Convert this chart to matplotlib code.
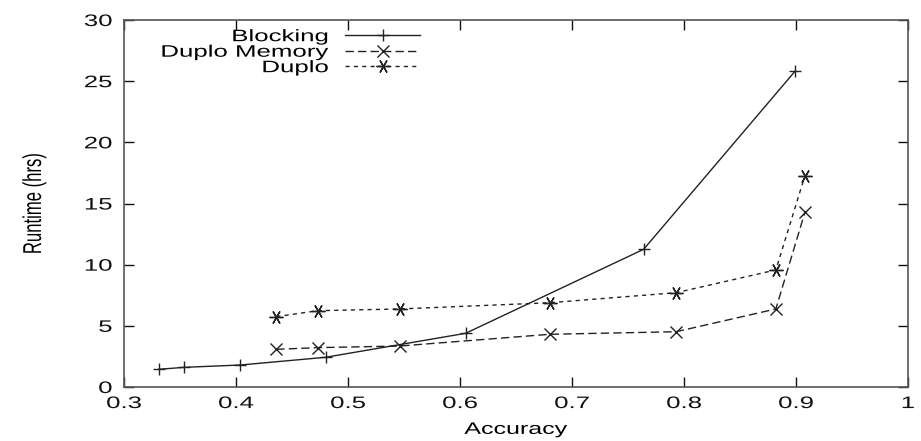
import numpy as np
import matplotlib
matplotlib.use("Agg")
import matplotlib.pyplot as plt
from matplotlib.patheffects import AbstractPathEffect
from matplotlib.transforms import Affine2D

plt.rcParams['font.family'] = ['Liberation Sans', 'DejaVu Sans']

# values
blocking_x = [0.331, 0.354, 0.404, 0.480, 0.605, 0.764, 0.899]
blocking_y = [1.45, 1.61, 1.80, 2.43, 4.39, 11.26, 25.8]

memory_x = [0.436, 0.473, 0.546, 0.680, 0.793, 0.882, 0.908]
memory_y = [3.08, 3.22, 3.35, 4.31, 4.52, 6.38, 14.3]

duplo_x = [0.436, 0.473, 0.546, 0.680, 0.793, 0.882, 0.908]
duplo_y = [5.75, 6.24, 6.38, 6.89, 7.71, 9.57, 17.28]

xticks = [0.3, 0.4, 0.5, 0.6, 0.7, 0.8, 0.9, 1.0]
xlabels = ['0.3', '0.4', '0.5', '0.6', '0.7', '0.8', '0.9', '1']
yticks = [0, 5, 10, 15, 20, 25, 30]
ylabels = ['0', '5', '10', '15', '20', '25', '30']


class Stretch(AbstractPathEffect):
    # widen the glyphs of a text (the reference text is drawn wide)
    def __init__(self, s=1.55, anchor=0.5, axis='x'):
        super().__init__()
        self.s = s
        self.anchor = anchor
        self.axis = axis

    def draw_path(self, renderer, gc, tpath, affine, rgbFace=None):
        ext = tpath.get_extents()
        if self.axis == 'x':
            c = ext.x0 + self.anchor * ext.width
            t = Affine2D().translate(-c, 0).scale(self.s, 1).translate(c, 0)
        else:
            c = ext.y0 + self.anchor * ext.height
            t = Affine2D().translate(0, -c).scale(1, self.s).translate(0, c)
        renderer.draw_path(gc, tpath, t + affine, rgbFace)


fs = 12
col = '#222222'

fig = plt.figure(figsize=(9.21, 4.41), dpi=100)
ax = fig.add_axes([0.1346, 0.1224, 0.8513, 0.8322])

ax.plot(blocking_x, blocking_y, '-', color=col, lw=1.0, marker='+', ms=9, mew=1.0,
        label='Blocking')
ax.plot(memory_x, memory_y, color=col, lw=1.0, ls=(0, (6, 3)), marker='x', ms=8,
        mew=1.0, label='Duplo Memory')
ax.plot(duplo_x, duplo_y, color=col, lw=1.0, ls=(0, (3, 3)), marker=(6, 2, 90), ms=10,
        mew=1.0, label='Duplo')

ax.set_xlim(0.3, 1.0)
ax.set_ylim(0, 30)
ax.set_xticks(xticks)
ax.set_xticklabels(xlabels)
ax.set_yticks(yticks)
ax.set_yticklabels(ylabels)
ax.tick_params(direction='in', length=7, width=1.0, top=True, right=True,
               labelsize=fs, colors='#111111')
ax.tick_params(axis='x', pad=6.5)
ax.tick_params(axis='y', pad=8.5)
for s in ax.spines.values():
    s.set_color('#555555')
    s.set_linewidth(1.2)

for lbl in ax.get_xticklabels():
    lbl.set_path_effects([Stretch(1.55, 0.5)])
for lbl in ax.get_yticklabels():
    lbl.set_path_effects([Stretch(1.55, 1.0)])

xl = ax.set_xlabel('Accuracy', fontsize=fs)
ax.xaxis.set_label_coords(0.5, -0.095)
xl.set_path_effects([Stretch(1.5, 0.5)])

yl = ax.set_ylabel('Runtime (hrs)', fontsize=fs)
ax.yaxis.set_label_coords(-0.105, 0.5)
yl.set_path_effects([Stretch(1.55, 0.5, axis='y')])

leg = ax.legend(loc='upper right', frameon=False, markerfirst=False, fontsize=fs,
                handlelength=4.5, handletextpad=1.0, labelspacing=0.03,
                borderpad=0, borderaxespad=0, bbox_to_anchor=(0.378, 0.975))
for t in leg.get_texts():
    t.set_path_effects([Stretch(1.55, 1.0)])

fig.savefig('out.png', dpi=100)
